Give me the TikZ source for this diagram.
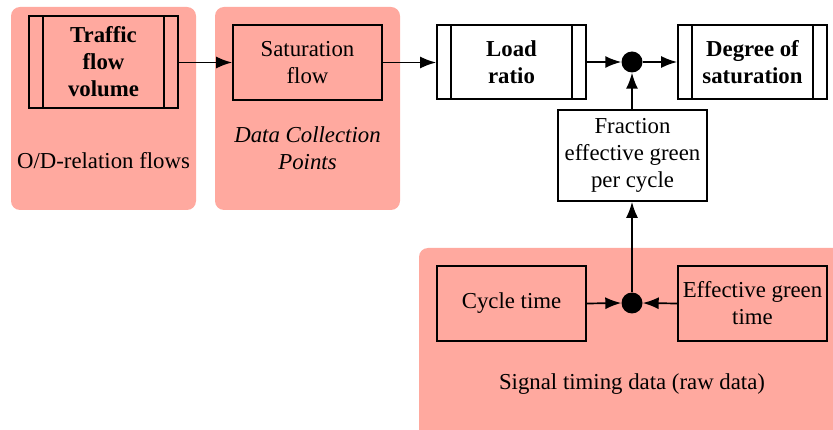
\documentclass[tikz,border=0pt]{standalone}
\usepackage{fontspec}
\setmainfont{Liberation Serif}
\usetikzlibrary{arrows.meta}
\definecolor{salmon}{RGB}{255,169,159}
\tikzset{
  x=1pt, y=-1pt,
  bgbox/.style={fill=salmon, draw=none, rounded corners=9pt},
  blk/.style={draw, line width=1.7pt, minimum width=149pt, align=center, inner sep=0pt, font=\fontsize{22.8}{27}\selectfont},
  bblk/.style={blk, font=\fontsize{22.8}{27}\selectfont\bfseries},
  lbl/.style={align=center, inner sep=0pt, font=\fontsize{22.8}{27}\selectfont},
  dot/.style={circle, fill=black, minimum size=21pt, inner sep=0pt},
  arr/.style={line width=1.7pt, -{Latex[length=16pt,width=12pt]}}
}
\begin{document}
\begin{tikzpicture}
\useasboundingbox (0,0) rectangle (833,430);
\clip (0,0) rectangle (833,430);
% backgrounds
\path[bgbox] (11,7) rectangle (196,210);
\path[bgbox] (215,7) rectangle (400,210);
\path[bgbox] (419,248) rectangle (860,460);
% labels
\node[lbl] (odl) at (103.5,161) {O/D-relation flows};
\node[lbl, font=\fontsize{22.8}{27}\selectfont\itshape] (dcp) at (307.5,148) {Data Collection\\Points};
\node[lbl] (std) at (632,384) {Signal timing data (raw data)};
% nodes
\node[bblk, minimum height=92pt] (tfv) at (103.5,62) {Traffic\\flow\\volume};
\node[blk, minimum height=75pt] (sf) at (307.5,62.5) {Saturation\\flow};
\node[bblk, minimum height=74pt] (lr) at (511.5,62) {Load\\ratio};
\node[bblk, minimum height=74pt] (ds) at (752.5,62) {Degree of\\saturation};
\node[blk, minimum height=91pt, fill=white] (feg) at (632.5,155.5) {Fraction\\effective green\\per cycle};
\node[blk, minimum height=75pt] (ct) at (511.5,303.5) {Cycle time};
\node[blk, minimum height=75pt] (egt) at (752.5,303.5) {Effective green\\time};
\node[dot] (d1) at (632,62) {};
\node[dot] (d2) at (632,303) {};
% inner bars of process boxes
\foreach \n in {tfv,lr,ds}{
  \draw[line width=1.7pt] ([xshift=15pt]\n.north west) -- ([xshift=15pt]\n.south west);
  \draw[line width=1.7pt] ([xshift=-15pt]\n.north east) -- ([xshift=-15pt]\n.south east);
}
% connectors
\draw[arr] (tfv.east |- sf.west) -- (sf.west);
\draw[arr] (sf.east) -- (lr.west |- sf.east);
\draw[arr] (lr.east) -- (d1.west);
\draw[arr] (d1.east) -- (ds.west);
\draw[arr] (feg.north -| d1.south) -- (d1.south);
\draw[arr] (d2.north) -- (feg.south -| d2.north);
\draw[arr] (ct.east) -- (d2.west);
\draw[arr] (egt.west) -- (d2.east);
\end{tikzpicture}
\end{document}
